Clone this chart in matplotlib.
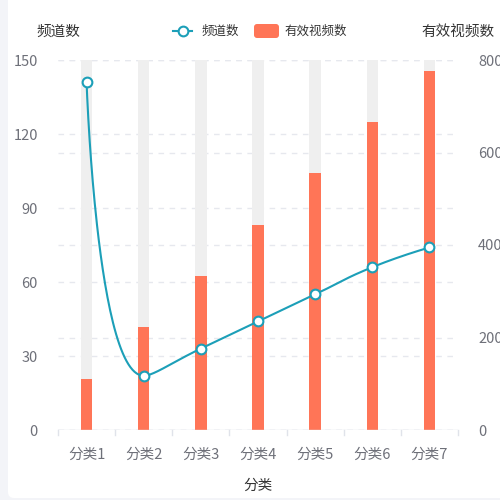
import numpy as np
import matplotlib
matplotlib.use("Agg")
import matplotlib.pyplot as plt
from matplotlib.patches import FancyBboxPatch
from matplotlib.lines import Line2D

plt.rcParams['font.family'] = ['Noto Sans CJK SC', 'DejaVu Sans']

categories = ['分类1', '分类2', '分类3', '分类4', '分类5', '分类6', '分类7']
channels = [141, 22, 33, 44, 55, 66, 74]
videos = [111, 222, 333, 444, 555, 666, 777]
left_ticks = [0, 30, 60, 90, 120, 150]
right_ticks = [0, 200, 400, 600, 800]

LINE_C = '#1c9fb8'
BAR_C = '#ff7557'
BG_BAR = '#efefef'
GRID_C = '#e6e8ee'
TICK_C = '#6e7079'
NAME_C = '#333333'

W = H = 500
fig = plt.figure(figsize=(5, 5), dpi=100)
fig.patch.set_facecolor('#f3f4f8')

def fx(px):
    return px / W

def fy(py):
    return 1 - py / H

card = FancyBboxPatch((fx(8), fy(498)), fx(520) - fx(8), fy(-20) - fy(498),
                      boxstyle="round,pad=0,rounding_size=0.012",
                      transform=fig.transFigure, facecolor='white',
                      edgecolor='none', zorder=-5)
fig.patches.append(card)

L, R, T, B = 58, 458, 60, 430
ax2 = fig.add_axes([fx(L), fy(B), fx(R) - fx(L), fy(T) - fy(B)])
ax = ax2.twinx()
ax2.set_zorder(1)
ax.set_zorder(2)
ax.patch.set_visible(False)
ax2.patch.set_visible(False)

n = len(categories)
xs = np.arange(n)
for a in (ax, ax2):
    a.set_xlim(-0.5, n - 0.5)
    for s in a.spines.values():
        s.set_visible(False)

ax2.set_ylim(0, 800)
ax.set_ylim(0, 150)

# grid lines (both axes)
for v in left_ticks:
    ax2.axhline(v * 800 / 150, color=GRID_C, lw=1.0, dashes=(4, 4), zorder=0)
for v in right_ticks:
    ax2.axhline(v, color=GRID_C, lw=1.0, dashes=(4, 4), zorder=0)

# bars (right axis)
bw = 0.2
ax2.bar(xs, [800] * n, width=bw, color=BG_BAR, zorder=1)
ax2.bar(xs, videos, width=bw, color=BAR_C, zorder=2)

# x axis line and boundary ticks
ax2.axhline(0, color='#e0e3ea', lw=1.0, zorder=3)
ax2.set_xticks(xs)
ax2.set_xticklabels(categories, fontsize=10.5, color=TICK_C)
ax2.tick_params(axis='x', length=0, pad=13)
for b in np.arange(-0.5, n, 1.0):
    ax2.plot([b, b], [0, -800 * 5 / 370], color='#e0e3ea', lw=1.0, clip_on=False, zorder=3)

# y ticks
ax2.yaxis.tick_right()
ax2.set_yticks(right_ticks)
ax2.set_yticklabels([str(v) for v in right_ticks], fontsize=10.5, color=TICK_C)
ax2.tick_params(axis='y', length=0, pad=14.4)
ax.yaxis.tick_left()
ax.set_yticks(left_ticks)
ax.set_yticklabels([str(v) for v in left_ticks], fontsize=10.5, color=TICK_C)
ax.tick_params(axis='y', length=0, pad=14.4)

# smooth line (echarts-like in pixel space)
pts = ax.transData.transform(np.column_stack([xs, channels]))

def smooth_path(p, smooth=0.5):
    out = []
    prev = p[0]
    cp0 = p[0].copy()
    for k in range(1, len(p)):
        x, y = p[k]
        px_, py_ = prev
        if k + 1 >= len(p):
            cp1 = np.array([x, y])
            ncp0 = None
        else:
            nx, ny = p[k + 1]
            vx, vy = nx - px_, ny - py_
            lp = np.hypot(x - px_, y - py_)
            ln = np.hypot(nx - x, ny - y)
            r = ln / (ln + lp)
            ncx = x + vx * smooth * r
            ncy = y + vy * smooth * r
            ncx = max(min(ncx, max(nx, x)), min(nx, x))
            ncy = max(min(ncy, max(ny, y)), min(ny, y))
            vx, vy = ncx - x, ncy - y
            c1x = x - vx * lp / ln
            c1y = y - vy * lp / ln
            c1x = max(min(c1x, max(px_, x)), min(px_, x))
            c1y = max(min(c1y, max(py_, y)), min(py_, y))
            vx, vy = x - c1x, y - c1y
            ncp0 = np.array([x + vx * ln / lp, y + vy * ln / lp])
            cp1 = np.array([c1x, c1y])
        t = np.linspace(0, 1, 60)[:, None]
        seg = ((1 - t) ** 3) * prev + 3 * ((1 - t) ** 2) * t * cp0 + 3 * (1 - t) * t ** 2 * cp1 + t ** 3 * np.array([x, y])
        out.append(seg)
        prev = np.array([x, y])
        cp0 = ncp0
    return np.vstack(out)

curve = smooth_path(pts)
curve_d = ax.transData.inverted().transform(curve)
ax.plot(curve_d[:, 0], curve_d[:, 1], color=LINE_C, lw=1.5, zorder=5, solid_capstyle='round')
ax.plot(xs, channels, linestyle='none', marker='o', ms=7, mfc='white', mec=LINE_C, mew=1.5, zorder=6)

# axis names
fig.text(fx(58), fy(32), '频道数', ha='center', va='center', fontsize=10.5, color=NAME_C)
fig.text(fx(458), fy(32), '有效视频数', ha='center', va='center', fontsize=10.5, color=NAME_C)
fig.text(fx(258), fy(486), '分类', ha='center', va='center', fontsize=10.5, color=NAME_C)

# legend
fig.add_artist(Line2D([fx(173), fx(192)], [fy(31), fy(31)], color=LINE_C, lw=1.5, transform=fig.transFigure))
fig.add_artist(Line2D([fx(182.5)], [fy(31)], marker='o', ms=7, mfc='white', mec=LINE_C, mew=1.5, transform=fig.transFigure))
fig.text(fx(202), fy(31), '频道数', ha='left', va='center', fontsize=9, color=NAME_C)
leg_rect = FancyBboxPatch((fx(254), fy(38)), fx(279) - fx(254), fy(24) - fy(38),
                          boxstyle="round,pad=0,rounding_size=0.006",
                          transform=fig.transFigure, facecolor=BAR_C, edgecolor='none')
fig.patches.append(leg_rect)
fig.text(fx(284), fy(31), '有效视频数', ha='left', va='center', fontsize=9, color=NAME_C)

fig.savefig('out.png', dpi=100, facecolor=fig.get_facecolor())
